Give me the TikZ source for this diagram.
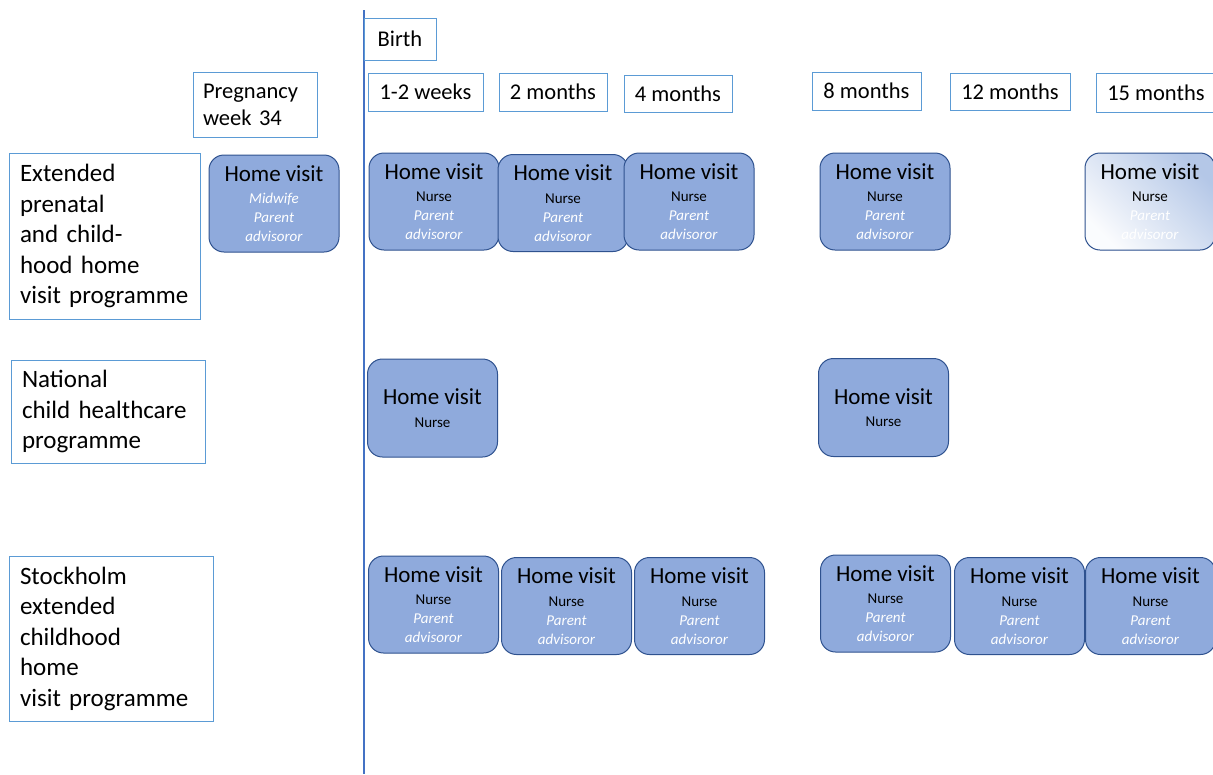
\documentclass[tikz,border=0pt]{standalone}
\usepackage{fontspec}
\setmainfont{Carlito}
\definecolor{visitfill}{HTML}{8FAADC}
\definecolor{visitline}{HTML}{2F528F}
\definecolor{boxline}{HTML}{5B9BD5}
\definecolor{birthline}{HTML}{4472C4}
\definecolor{fadeblue}{HTML}{B4C7E7}
\newcommand{\hv}{{\fontsize{23}{25}\selectfont Home visit}\\[3.5pt]}
\newcommand{\pa}{{\color{white}\itshape Parent\\advisoror}}
\tikzset{
  lbl/.style={draw=boxline, line width=1pt, inner xsep=11pt, inner ysep=0pt, align=left,
    font=\fontsize{25}{30.5}\selectfont},
  tbox/.style={draw=boxline, line width=1pt, inner sep=0pt, font=\fontsize{22.5}{27}\selectfont},
  visit/.style={draw=visitline, line width=1pt, fill=visitfill, rounded corners=15pt,
    minimum width=130pt, minimum height=97pt, text width=126pt, align=center, inner sep=0pt,
    font=\fontsize{15}{19}\selectfont},
}
\begin{document}
\begin{tikzpicture}[x=1pt,y=-1pt]
\useasboundingbox (0,0) rectangle (1213,774);
\clip (0,0) rectangle (1213,774);

% birth line
\coordinate (ltop) at (364,10);
\coordinate (lbot) at (364,774);
\draw[birthline, line width=1.5pt] (ltop) -- (lbot);

% time points
\foreach \n/\x/\y/\w/\h/\t in {birth/400/39/72/42/Birth, t1/425.5/92/115/38/1-2 weeks,
    t2/553/92/108/38/2 months, t3/678/93.5/108/37/4 months, t4/866.5/91/109/38/8 months,
    t5/1010/91.5/120/37/12 months, t6/1156/92.5/120/39/15 months} {
    \node[tbox, minimum width=\w, minimum height=\h] (\n) at (\x,\y) {\t};
}
\node[tbox, inner xsep=10pt, text width=104pt, align=left, minimum height=65pt] (preg) at (255,104.5)
    {Pregnancy\\week 34};

% programmes
\node[lbl, text width=169pt, minimum height=166pt] (ext) at (104.5,236)
    {Extended\\prenatal\\and child-\\hood home\\visit programme};
\node[lbl, text width=172pt, minimum height=103pt] (nat) at (108,411.5)
    {National\\child healthcare\\programme};
\node[lbl, text width=182pt, minimum height=165pt] (sto) at (111,638.5)
    {Stockholm\\extended\\childhood\\home\\visit programme};

% extended programme visits
\node[visit] (ea1) at (274,203.5) {\hv{\color{white}\itshape Midwife\\Parent\\advisoror}};
\foreach \i/\x/\y in {2/434/201.5, 3/563/203, 4/689/201.5, 5/885/201.5} {
    \node[visit] (ea\i) at (\x,\y) {\hv Nurse\\ \pa};
}
\node[visit, top color=fadeblue, bottom color=white!94!fadeblue, shading angle=-45] (ea6)
    at (1150,201.5) {\hv Nurse\\ \pa};

% national programme visits
\foreach \i/\x/\y in {1/432.5/408, 2/883.5/407.5} {
    \node[visit, minimum height=98pt] (na\i) at (\x,\y) {\hv Nurse};
}

% stockholm programme visits
\foreach \i/\x/\y in {1/433.5/604.5, 2/566.5/606, 3/699.5/606, 4/885.5/603.5, 5/1019.5/606, 6/1150.5/606} {
    \node[visit] (st\i) at (\x,\y) {\hv Nurse\\ \pa};
}
\end{tikzpicture}
\end{document}
